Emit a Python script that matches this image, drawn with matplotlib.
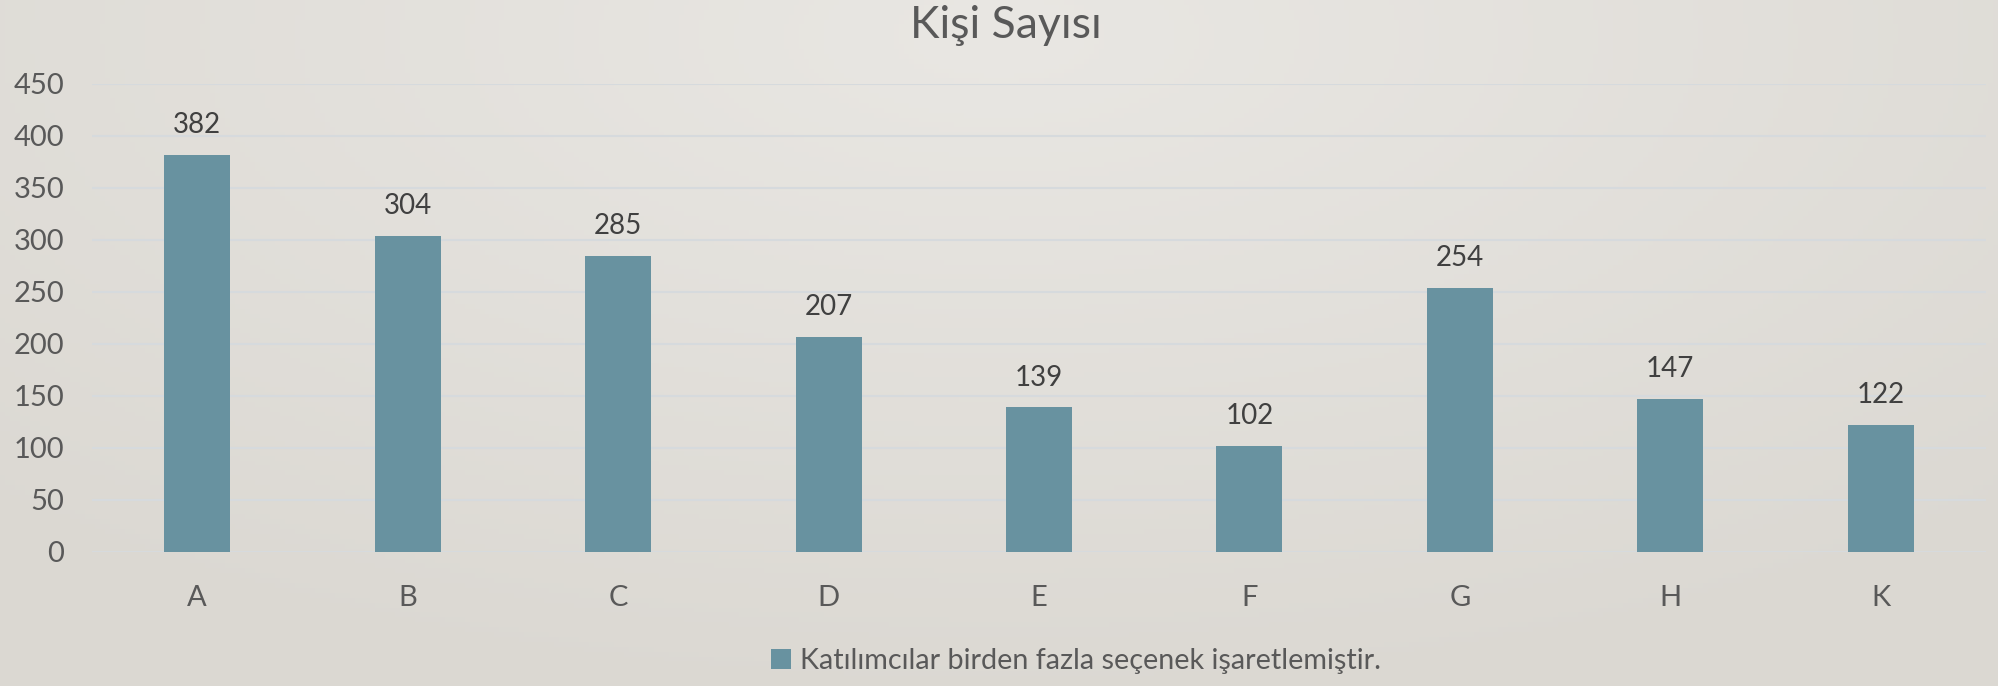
import matplotlib
import matplotlib.pyplot as plt
import numpy as np

matplotlib.use('Agg')

kategoriler = ['A', 'B', 'C', 'D', 'E', 'F', 'G', 'H', 'K']
kisi_sayisi = [382, 304, 285, 207, 139, 102, 254, 147, 122]
y_ticks = [0, 50, 100, 150, 200, 250, 300, 350, 400, 450]

plt.rcParams['font.family'] = ['Lato', 'DejaVu Sans']

fig = plt.figure(figsize=(19.98, 6.86), dpi=100)

# arka plan (hafif gradyan)
bg = fig.add_axes([0, 0, 1, 1], zorder=-10)
xx, yy = np.meshgrid(np.linspace(-1, 1, 400), np.linspace(-1, 1, 140))
r = np.sqrt((xx * 0.8) ** 2 + ((yy + 0.9) * 0.6) ** 2)
light = np.array([233, 231, 227]) / 255
dark = np.array([219, 216, 210]) / 255
t = np.clip(r / 1.2, 0, 1)[..., None]
img = light * (1 - t) + dark * t
bg.imshow(img, aspect='auto', extent=[0, 1, 0, 1], origin='upper')
bg.axis('off')

ax = fig.add_axes([92 / 1998, 1 - 552 / 686, 1894 / 1998, (552 - 84) / 686])
ax.patch.set_alpha(0)

x = np.arange(len(kategoriler))
bars = ax.bar(x, kisi_sayisi, width=0.314, color='#6892a0', zorder=3,
              label='Katılımcılar birden fazla seçenek işaretlemiştir.')

for xi, v in zip(x, kisi_sayisi):
    ax.annotate(str(v), (xi, v), xytext=(0, 12), textcoords='offset points',
                ha='center', va='bottom', fontsize=20, color='#404040')

ax.set_xlim(-0.5, len(kategoriler) - 0.5)
ax.set_ylim(0, 450)
ax.set_yticks(y_ticks)
ax.set_xticks(x)
ax.set_xticklabels(kategoriler)
ax.grid(axis='y', color='#d6dadd', linewidth=1.5, zorder=0)
ax.tick_params(axis='both', length=0, labelsize=21, colors='#595959')
ax.tick_params(axis='x', pad=24)
ax.tick_params(axis='y', pad=20)
for s in ax.spines.values():
    s.set_visible(False)

fig.text(1006 / 1998, 1 - 25 / 686, 'Kişi Sayısı', ha='center', va='center',
         fontsize=32, color='#595959')

fig.legend(loc='center', bbox_to_anchor=(1076 / 1998, 1 - 661 / 686), frameon=False,
           fontsize=20.7, labelcolor='#595959', handlelength=0.7, handleheight=0.7,
           handletextpad=0.3)

fig.savefig('out.png', dpi=100)
